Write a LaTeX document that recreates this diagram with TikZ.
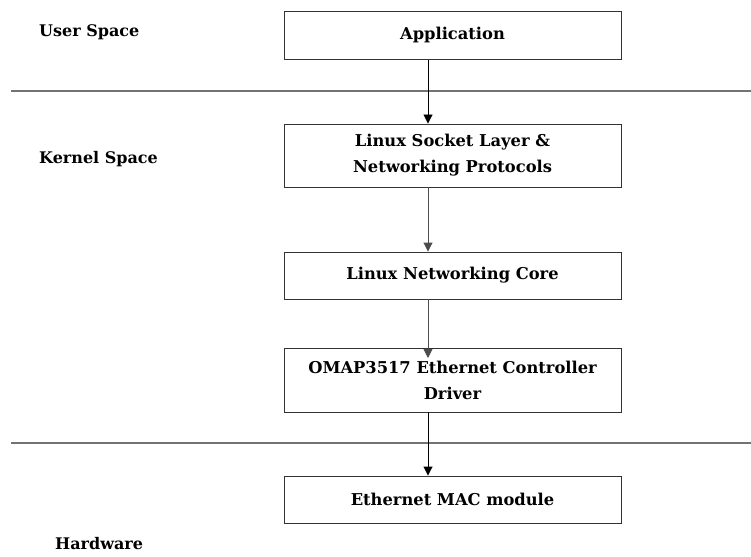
\documentclass[tikz,border=0pt]{standalone}
\usepackage{fontspec}
\setmainfont{DejaVu Serif}
\usetikzlibrary{arrows.meta}

\tikzset{
  layerbox/.style={draw=black!80, line width=0.9pt, minimum width=337pt, inner sep=0pt, align=center,
    font=\fontsize{16.3}{26}\selectfont\bfseries},
  spacelabel/.style={anchor=west, inner sep=0pt, font=\fontsize{16}{18}\selectfont\bfseries},
  divider/.style={draw=black!55, line width=1.6pt},
  flow/.style={-{Triangle[length=9pt,width=9pt]}, line width=0.9pt}
}

\begin{document}
\begin{tikzpicture}[x=1pt,y=-1pt]
\useasboundingbox (0,0) rectangle (751,556);
\node[spacelabel] (user) at (39,32) {User Space};
\node[spacelabel] (kernel) at (39,159) {Kernel Space};
\node[spacelabel] (hw) at (55,544) {Hardware};
\coordinate (divA) at (11,91); \coordinate (divAe) at (751,91);
\coordinate (divB) at (11,443); \coordinate (divBe) at (751,443);
\draw[divider] (divA) -- (divAe);
\draw[divider] (divB) -- (divBe);
\node[layerbox, minimum height=48pt] (app) at (452.5,35.5) {Application};
\node[layerbox, minimum height=63pt] (sock) at (452.5,155.5) {Linux Socket Layer \&\\Networking Protocols};
\node[layerbox, minimum height=47pt] (core) at (452.5,275.5) {Linux Networking Core};
\node[layerbox, minimum height=64pt] (omap) at (452.5,380) {OMAP3517 Ethernet Controller\\Driver};
\node[layerbox, minimum height=47pt] (mac) at (452.5,499.5) {Ethernet MAC module};
\coordinate (ax) at (428,0);
\coordinate (omaptip) at (428,358);
\draw[flow] (app.south -| ax) -- (sock.north -| ax);
\draw[flow, draw=black!70] (sock.south -| ax) -- (core.north -| ax);
\draw[flow, draw=black!70] (core.south -| ax) -- (omaptip);
\draw[flow] (omap.south -| ax) -- (mac.north -| ax);
\end{tikzpicture}
\end{document}
